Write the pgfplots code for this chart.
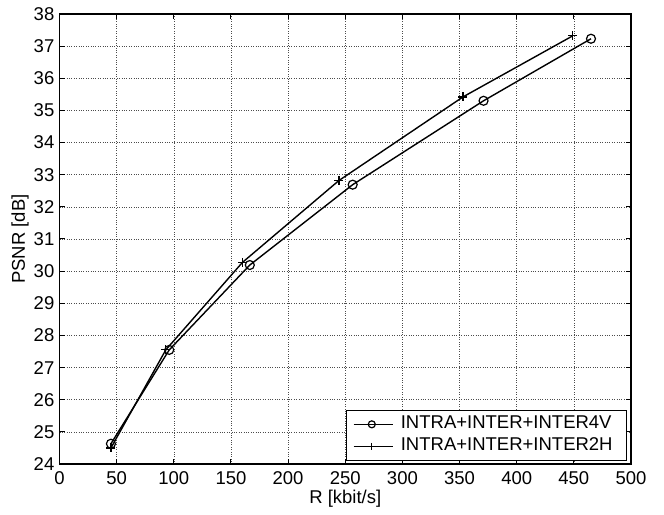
\documentclass[border=0pt]{standalone}
\usepackage{pgfplots}
\pgfplotsset{compat=1.18}
\usepackage{fontspec}
\setmainfont{Liberation Sans}
\begin{document}
\fontsize{18.5bp}{20bp}\selectfont
\begin{tikzpicture}
\begin{axis}[
  scale only axis,
  width=571.5bp, height=450bp,
  xmin=0, xmax=500, ymin=24, ymax=38,
  xtick={0,50,...,500}, ytick={24,25,...,38},
  grid=major,
  major grid style={black!70, dotted, line width=0.6bp},
  axis line style={line width=1.3bp},
  tick style={black, line width=1bp},
  major tick length=5bp,
  tick align=inside,
  xtick pos=both, ytick pos=both,
  /pgf/number format/assume math mode=true,
  ticklabel style={font=\fontsize{18.5bp}{20bp}\selectfont},
  xticklabel style={inner sep=2bp, yshift=-5bp},
  yticklabel style={inner sep=2bp, xshift=-3bp},
  label style={font=\fontsize{18.5bp}{20bp}\selectfont},
  xlabel={R [kbit/s]},
  ylabel={PSNR [dB]},
  xlabel style={at={(axis description cs:0.5,-0.078)}, anchor=center},
  ylabel style={at={(axis description cs:-0.069,0.5)}, anchor=center},
  legend style={at={(0.9925,0.0073)}, anchor=south east, draw=black, line width=0.8bp,
    font=\fontsize{18.5bp}{20bp}\selectfont,
    inner xsep=6.85bp, inner ysep=5.5bp, row sep=5bp,
    nodes={inner xsep=6.85bp, inner ysep=0bp, text height=13bp, text depth=4bp},
    cells={anchor=west}},
  legend cell align=left,
  legend image code/.code={%
    \path (0bp,0bp) -- (39.65bp,0bp);
    \draw[mark repeat=2,mark phase=2,#1, line width=1.2bp, mark size=3.5bp]
      plot coordinates {(2.15bp,0bp) (18.15bp,0bp) (34.15bp,0bp)};},
]
\addplot[black, line width=1.4bp, mark=o, mark size=4.5bp, mark options={line width=1.2bp}]
  coordinates {(45,24.63) (96,27.55) (166.5,30.19) (256.5,32.69) (371,35.30) (465,37.23)};
\addlegendentry{INTRA+INTER+INTER4V}
\addplot[black, line width=1.4bp, mark=+, mark size=4.5bp, mark options={line width=1.2bp}]
  coordinates {(45,24.50) (93,27.55) (160,30.27) (244.5,32.82) (353,35.42) (449,37.32)};
\addlegendentry{INTRA+INTER+INTER2H}
\end{axis}
\pgfresetboundingbox
\path[use as bounding box] (-59.5bp,-51bp) rectangle (604.5bp,464bp);
\end{tikzpicture}
\end{document}
